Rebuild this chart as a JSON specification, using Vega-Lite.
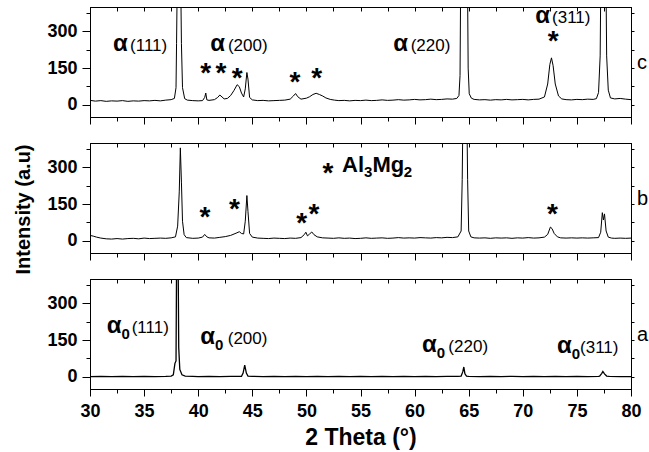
{
  "$schema": "https://vega.github.io/schema/vega-lite/v6.json",
  "padding": {"left": 13, "top": 3, "right": 2, "bottom": 2},
  "spacing": 26,
  "bounds": "flush",
  "config": {
    "font": "Liberation Sans",
    "view": {"stroke": "black", "strokeWidth": 1},
    "axis": {
      "grid": false,
      "domainColor": "black",
      "domainWidth": 1,
      "tickColor": "black",
      "tickWidth": 1,
      "labelColor": "black",
      "titleColor": "black",
      "labelFont": "Liberation Sans",
      "titleFont": "Liberation Sans",
      "labelFontWeight": "bold",
      "labelFontSize": 18,
      "titleFontWeight": "bold",
      "labelFlush": false,
      "labelOverlap": false
    }
  },
  "datasets": {
    "c": [
      {"x":30,"y":18},{"x":30.5,"y":15},{"x":31,"y":17},{"x":31.5,"y":14},{"x":32,"y":16},{"x":32.5,"y":15},{"x":33,"y":17},{"x":33.5,"y":14},{"x":34,"y":16},{"x":34.5,"y":15},{"x":35,"y":17},{"x":35.5,"y":16},{"x":36,"y":18},{"x":36.5,"y":16},{"x":37,"y":19},{"x":37.5,"y":21},{"x":37.8,"y":26},{"x":37.95,"y":70},{"x":38.0,"y":250},{"x":38.05,"y":450},{"x":38.4,"y":450},{"x":38.45,"y":250},{"x":38.55,"y":70},{"x":38.75,"y":25},{"x":39,"y":19},{"x":39.5,"y":17},{"x":40,"y":16},{"x":40.4,"y":17},{"x":40.6,"y":30},{"x":40.7,"y":48},{"x":40.8,"y":20},{"x":41,"y":18},{"x":41.5,"y":21},{"x":41.8,"y":30},{"x":42.0,"y":40},{"x":42.2,"y":32},{"x":42.4,"y":24},{"x":42.7,"y":26},{"x":43.0,"y":38},{"x":43.3,"y":58},{"x":43.6,"y":82},{"x":43.8,"y":74},{"x":44.0,"y":48},{"x":44.2,"y":32},{"x":44.35,"y":65},{"x":44.5,"y":132},{"x":44.6,"y":105},{"x":44.75,"y":30},{"x":45,"y":20},{"x":45.5,"y":17},{"x":46,"y":18},{"x":46.5,"y":16},{"x":47,"y":17},{"x":47.5,"y":18},{"x":48,"y":19},{"x":48.5,"y":23},{"x":48.8,"y":36},{"x":49.0,"y":46},{"x":49.2,"y":33},{"x":49.5,"y":23},{"x":50,"y":27},{"x":50.3,"y":33},{"x":50.6,"y":42},{"x":50.9,"y":47},{"x":51.2,"y":42},{"x":51.5,"y":36},{"x":51.8,"y":28},{"x":52.2,"y":22},{"x":52.6,"y":19},{"x":53,"y":17},{"x":53.5,"y":18},{"x":54,"y":16},{"x":54.5,"y":18},{"x":55,"y":17},{"x":55.5,"y":19},{"x":56,"y":17},{"x":56.5,"y":18},{"x":57,"y":20},{"x":57.5,"y":18},{"x":58,"y":19},{"x":58.5,"y":21},{"x":59,"y":19},{"x":59.5,"y":20},{"x":60,"y":22},{"x":60.5,"y":20},{"x":61,"y":21},{"x":61.5,"y":23},{"x":62,"y":21},{"x":62.5,"y":22},{"x":63,"y":24},{"x":63.5,"y":23},{"x":63.9,"y":26},{"x":64.1,"y":38},{"x":64.2,"y":120},{"x":64.25,"y":450},{"x":64.9,"y":450},{"x":64.95,"y":150},{"x":65.05,"y":45},{"x":65.25,"y":27},{"x":65.5,"y":22},{"x":66,"y":20},{"x":66.5,"y":21},{"x":67,"y":19},{"x":67.5,"y":21},{"x":68,"y":20},{"x":68.5,"y":22},{"x":69,"y":20},{"x":69.5,"y":21},{"x":70,"y":22},{"x":70.5,"y":20},{"x":71,"y":22},{"x":71.5,"y":23},{"x":72,"y":32},{"x":72.3,"y":85},{"x":72.5,"y":165},{"x":72.65,"y":192},{"x":72.8,"y":160},{"x":73.0,"y":85},{"x":73.3,"y":36},{"x":73.6,"y":24},{"x":74,"y":21},{"x":74.5,"y":20},{"x":75,"y":22},{"x":75.5,"y":21},{"x":76,"y":23},{"x":76.5,"y":22},{"x":76.8,"y":25},{"x":77.0,"y":50},{"x":77.15,"y":200},{"x":77.2,"y":450},{"x":77.7,"y":450},{"x":77.75,"y":200},{"x":77.9,"y":60},{"x":78.1,"y":28},{"x":78.5,"y":24},{"x":79,"y":26},{"x":79.5,"y":23},{"x":80,"y":21}
    ],
    "b": [
      {"x":30,"y":22},{"x":30.3,"y":19},{"x":30.6,"y":15},{"x":31,"y":11},{"x":31.5,"y":8},{"x":32,"y":7},{"x":32.5,"y":9},{"x":33,"y":7},{"x":33.5,"y":9},{"x":34,"y":10},{"x":34.5,"y":8},{"x":35,"y":11},{"x":35.5,"y":9},{"x":36,"y":10},{"x":36.5,"y":11},{"x":37,"y":10},{"x":37.5,"y":12},{"x":37.9,"y":16},{"x":38.1,"y":60},{"x":38.25,"y":200},{"x":38.35,"y":380},{"x":38.45,"y":240},{"x":38.55,"y":80},{"x":38.7,"y":25},{"x":38.9,"y":13},{"x":39.5,"y":10},{"x":40,"y":11},{"x":40.4,"y":15},{"x":40.6,"y":26},{"x":40.8,"y":16},{"x":41,"y":12},{"x":41.5,"y":11},{"x":42,"y":14},{"x":42.5,"y":17},{"x":43,"y":22},{"x":43.5,"y":31},{"x":43.8,"y":37},{"x":44.0,"y":30},{"x":44.2,"y":28},{"x":44.35,"y":80},{"x":44.5,"y":185},{"x":44.6,"y":120},{"x":44.75,"y":30},{"x":45,"y":15},{"x":45.5,"y":11},{"x":46,"y":10},{"x":46.5,"y":9},{"x":47,"y":11},{"x":47.5,"y":10},{"x":48,"y":9},{"x":48.5,"y":11},{"x":49,"y":10},{"x":49.5,"y":13},{"x":49.8,"y":25},{"x":49.95,"y":35},{"x":50.1,"y":20},{"x":50.3,"y":28},{"x":50.5,"y":36},{"x":50.7,"y":25},{"x":51,"y":16},{"x":51.5,"y":12},{"x":52,"y":11},{"x":52.5,"y":10},{"x":53,"y":12},{"x":53.5,"y":10},{"x":54,"y":11},{"x":54.5,"y":9},{"x":55,"y":10},{"x":55.5,"y":12},{"x":56,"y":10},{"x":56.5,"y":11},{"x":57,"y":12},{"x":57.5,"y":10},{"x":58,"y":11},{"x":58.5,"y":13},{"x":59,"y":11},{"x":59.5,"y":12},{"x":60,"y":11},{"x":60.5,"y":13},{"x":61,"y":12},{"x":61.5,"y":11},{"x":62,"y":13},{"x":62.5,"y":12},{"x":63,"y":14},{"x":63.5,"y":13},{"x":64,"y":16},{"x":64.3,"y":40},{"x":64.4,"y":250},{"x":64.45,"y":450},{"x":64.85,"y":450},{"x":64.9,"y":250},{"x":65.0,"y":40},{"x":65.2,"y":16},{"x":65.5,"y":12},{"x":66,"y":11},{"x":66.5,"y":12},{"x":67,"y":10},{"x":67.5,"y":12},{"x":68,"y":11},{"x":68.5,"y":12},{"x":69,"y":10},{"x":69.5,"y":12},{"x":70,"y":11},{"x":70.5,"y":13},{"x":71,"y":11},{"x":71.5,"y":12},{"x":72,"y":15},{"x":72.3,"y":26},{"x":72.55,"y":56},{"x":72.7,"y":50},{"x":72.9,"y":30},{"x":73.2,"y":16},{"x":73.5,"y":12},{"x":74,"y":11},{"x":74.5,"y":12},{"x":75,"y":11},{"x":75.5,"y":12},{"x":76,"y":11},{"x":76.5,"y":12},{"x":77,"y":13},{"x":77.2,"y":35},{"x":77.35,"y":115},{"x":77.45,"y":85},{"x":77.55,"y":110},{"x":77.7,"y":40},{"x":77.9,"y":15},{"x":78.2,"y":11},{"x":78.5,"y":10},{"x":79,"y":11},{"x":79.5,"y":10},{"x":80,"y":11}
    ],
    "a": [
      {"x":30,"y":1},{"x":31,"y":2},{"x":32,"y":1},{"x":33,"y":2},{"x":34,"y":1},{"x":35,"y":2},{"x":36,"y":1},{"x":37,"y":2},{"x":37.5,"y":3},{"x":37.7,"y":8},{"x":37.85,"y":55},{"x":37.95,"y":65},{"x":38.0,"y":450},{"x":38.15,"y":450},{"x":38.2,"y":120},{"x":38.3,"y":30},{"x":38.5,"y":8},{"x":38.8,"y":3},{"x":39.5,"y":2},{"x":40,"y":1},{"x":41,"y":2},{"x":42,"y":1},{"x":43,"y":2},{"x":44,"y":2},{"x":44.15,"y":15},{"x":44.3,"y":48},{"x":44.45,"y":15},{"x":44.6,"y":3},{"x":45,"y":2},{"x":46,"y":1},{"x":47,"y":2},{"x":48,"y":1},{"x":49,"y":2},{"x":50,"y":1},{"x":51,"y":2},{"x":52,"y":1},{"x":53,"y":2},{"x":54,"y":1},{"x":55,"y":2},{"x":56,"y":1},{"x":57,"y":2},{"x":58,"y":1},{"x":59,"y":2},{"x":60,"y":1},{"x":61,"y":2},{"x":62,"y":1},{"x":63,"y":2},{"x":64,"y":2},{"x":64.3,"y":3},{"x":64.45,"y":20},{"x":64.55,"y":40},{"x":64.65,"y":12},{"x":64.8,"y":3},{"x":65,"y":2},{"x":66,"y":1},{"x":67,"y":2},{"x":68,"y":1},{"x":69,"y":2},{"x":70,"y":1},{"x":71,"y":2},{"x":72,"y":1},{"x":73,"y":2},{"x":74,"y":1},{"x":75,"y":2},{"x":76,"y":1},{"x":77,"y":2},{"x":77.1,"y":3},{"x":77.3,"y":14},{"x":77.4,"y":22},{"x":77.55,"y":12},{"x":77.75,"y":3},{"x":78,"y":2},{"x":79,"y":1},{"x":80,"y":1}
    ],
    "lab": [
      {"p":"c","k":"g","x":33.5,"y":222,"t":"α"},
      {"p":"c","k":"g","x":42.48,"y":222,"t":"α"},
      {"p":"c","k":"g","x":59.39,"y":222,"t":"α"},
      {"p":"c","k":"g","x":72.51,"y":334,"t":"α"},
      {"p":"c","k":"h","x":33.7,"y":222,"t":"(111)"},
      {"p":"c","k":"h","x":42.75,"y":222,"t":"(200)"},
      {"p":"c","k":"h","x":59.64,"y":222,"t":"(220)"},
      {"p":"c","k":"h","x":72.7,"y":334,"t":"(311)"},
      {"p":"c","k":"st","x":40.7,"y":160,"t":"*"},
      {"p":"c","k":"st","x":42.1,"y":160,"t":"*"},
      {"p":"c","k":"st","x":43.6,"y":140,"t":"*"},
      {"p":"c","k":"st","x":48.95,"y":123,"t":"*"},
      {"p":"c","k":"st","x":50.95,"y":140,"t":"*"},
      {"p":"c","k":"st","x":72.8,"y":288,"t":"*"},
      {"p":"b","k":"st","x":40.63,"y":127,"t":"*"},
      {"p":"b","k":"st","x":43.34,"y":158,"t":"*"},
      {"p":"b","k":"st","x":49.57,"y":100,"t":"*"},
      {"p":"b","k":"st","x":50.7,"y":138,"t":"*"},
      {"p":"b","k":"st","x":72.73,"y":138,"t":"*"},
      {"p":"b","k":"st","x":52.0,"y":307,"t":"*"},
      {"p":"b","k":"lg","x":53.3,"y":282,"t":"Al"},
      {"p":"b","k":"ls","x":55.32,"y":282,"t":"3"},
      {"p":"b","k":"lg","x":56.1,"y":282,"t":"Mg"},
      {"p":"b","k":"ls","x":59.0,"y":282,"t":"2"},
      {"p":"a","k":"g","x":32.92,"y":178,"t":"α"},
      {"p":"a","k":"g","x":41.55,"y":135,"t":"α"},
      {"p":"a","k":"g","x":62.04,"y":100,"t":"α"},
      {"p":"a","k":"g","x":74.52,"y":98,"t":"α"},
      {"p":"a","k":"s","x":32.92,"y":178,"t":"0"},
      {"p":"a","k":"s","x":41.55,"y":135,"t":"0"},
      {"p":"a","k":"s","x":62.04,"y":100,"t":"0"},
      {"p":"a","k":"s","x":74.52,"y":98,"t":"0"},
      {"p":"a","k":"h","x":33.85,"y":178,"t":"(111)"},
      {"p":"a","k":"h","x":42.73,"y":135,"t":"(200)"},
      {"p":"a","k":"h","x":63.12,"y":100,"t":"(220)"},
      {"p":"a","k":"h","x":75.29,"y":98,"t":"(311)"}
    ]
  },
  "vconcat": [
    {
      "width": 541, "height": 110,
      "resolve": {"axis": {"x": "independent", "y": "independent"}},
      "layer": [
        {
          "data": {"name": "c"},
          "mark": {"type": "line", "clip": true, "color": "black", "strokeWidth": 1},
          "encoding": {
            "x": {"field": "x", "type": "quantitative", "scale": {"domain": [30, 80], "nice": false, "zero": false},
              "axis": {"orient": "bottom", "values": [30,32.5,35,37.5,40,42.5,45,47.5,50,52.5,55,57.5,60,62.5,65,67.5,70,72.5,75,77.5,80], "labels": false, "title": null,
                "tickSize": {"condition": {"test": "datum.value % 5 === 0", "value": 7}, "value": 4}}},
            "y": {"field": "y", "type": "quantitative", "scale": {"domain": [-50, 400], "nice": false, "zero": false},
              "axis": {"orient": "left", "values": [0,75,150,225,300,375], "title": null, "labelPadding": 5,
                "labelExpr": "datum.value % 150 === 0 ? datum.label : ''",
                "tickSize": {"condition": {"test": "datum.value % 150 === 0", "value": 8}, "value": 4}}}
          }
        },
        {
          "data": {"name": "lab"},
          "transform": [{"filter": "datum.p === 'c' && datum.k === 'g'"}],
          "mark": {"type": "text", "fontWeight": "bold", "fontSize": 24, "align": "right", "baseline": "alphabetic", "color": "black"},
          "encoding": {
            "x": {"field": "x", "type": "quantitative", "axis": {"orient": "top", "values": [30,32.5,35,37.5,40,42.5,45,47.5,50,52.5,55,57.5,60,62.5,65,67.5,70,72.5,75,77.5,80], "labels": false, "title": null, "tickSize": -4}},
            "y": {"field": "y", "type": "quantitative", "axis": {"orient": "right", "values": [0,75,150,225,300,375], "labels": false, "tickSize": 3, "title": "c", "titleAngle": 0, "titleAlign": "left", "titleBaseline": "middle", "titleFontWeight": "normal", "titleFontSize": 20, "titlePadding": 2}},
            "text": {"field": "t"}
          }
        },
        {
          "data": {"name": "lab"},
          "transform": [{"filter": "datum.p === 'c' && datum.k === 'h'"}],
          "mark": {"type": "text", "fontWeight": "normal", "fontSize": 17, "align": "left", "baseline": "alphabetic", "color": "black"},
          "encoding": {
            "x": {"field": "x", "type": "quantitative", "axis": null},
            "y": {"field": "y", "type": "quantitative", "axis": null},
            "text": {"field": "t"}
          }
        },
        {
          "data": {"name": "lab"},
          "transform": [{"filter": "datum.p === 'c' && datum.k === 'st'"}],
          "mark": {"type": "text", "fontWeight": "bold", "fontSize": 28, "align": "center", "baseline": "middle", "dy": 8, "color": "black"},
          "encoding": {
            "x": {"field": "x", "type": "quantitative", "axis": null},
            "y": {"field": "y", "type": "quantitative", "axis": null},
            "text": {"field": "t"}
          }
        }
      ]
    },
    {
      "width": 541, "height": 110,
      "resolve": {"axis": {"x": "independent", "y": "independent"}},
      "layer": [
        {
          "data": {"name": "b"},
          "mark": {"type": "line", "clip": true, "color": "black", "strokeWidth": 1},
          "encoding": {
            "x": {"field": "x", "type": "quantitative", "scale": {"domain": [30, 80], "nice": false, "zero": false},
              "axis": {"orient": "bottom", "values": [30,32.5,35,37.5,40,42.5,45,47.5,50,52.5,55,57.5,60,62.5,65,67.5,70,72.5,75,77.5,80], "labels": false, "title": null,
                "tickSize": {"condition": {"test": "datum.value % 5 === 0", "value": 7}, "value": 4}}},
            "y": {"field": "y", "type": "quantitative", "scale": {"domain": [-50, 400], "nice": false, "zero": false},
              "axis": {"orient": "left", "values": [0,75,150,225,300,375], "labelPadding": 5,
                "title": "Intensity (a.u)", "titleFontSize": 20, "titlePadding": 13, "titleY": 66,
                "labelExpr": "datum.value % 150 === 0 ? datum.label : ''",
                "tickSize": {"condition": {"test": "datum.value % 150 === 0", "value": 8}, "value": 4}}}
          }
        },
        {
          "data": {"name": "lab"},
          "transform": [{"filter": "datum.p === 'b' && datum.k === 'st'"}],
          "mark": {"type": "text", "fontWeight": "bold", "fontSize": 28, "align": "center", "baseline": "middle", "dy": 8, "color": "black"},
          "encoding": {
            "x": {"field": "x", "type": "quantitative", "axis": {"orient": "top", "values": [30,32.5,35,37.5,40,42.5,45,47.5,50,52.5,55,57.5,60,62.5,65,67.5,70,72.5,75,77.5,80], "labels": false, "title": null, "tickSize": -4}},
            "y": {"field": "y", "type": "quantitative", "axis": {"orient": "right", "values": [0,75,150,225,300,375], "labels": false, "tickSize": 3, "title": "b", "titleAngle": 0, "titleAlign": "left", "titleBaseline": "middle", "titleFontWeight": "normal", "titleFontSize": 20, "titlePadding": 2}},
            "text": {"field": "t"}
          }
        },
        {
          "data": {"name": "lab"},
          "transform": [{"filter": "datum.p === 'b' && datum.k === 'lg'"}],
          "mark": {"type": "text", "fontWeight": "bold", "fontSize": 22, "align": "left", "baseline": "alphabetic", "color": "black"},
          "encoding": {
            "x": {"field": "x", "type": "quantitative", "axis": null},
            "y": {"field": "y", "type": "quantitative", "axis": null},
            "text": {"field": "t"}
          }
        },
        {
          "data": {"name": "lab"},
          "transform": [{"filter": "datum.p === 'b' && datum.k === 'ls'"}],
          "mark": {"type": "text", "fontWeight": "bold", "fontSize": 15, "align": "left", "baseline": "alphabetic", "dy": 5, "color": "black"},
          "encoding": {
            "x": {"field": "x", "type": "quantitative", "axis": null},
            "y": {"field": "y", "type": "quantitative", "axis": null},
            "text": {"field": "t"}
          }
        }
      ]
    },
    {
      "width": 541, "height": 110,
      "resolve": {"axis": {"x": "independent", "y": "independent"}},
      "layer": [
        {
          "data": {"name": "a"},
          "mark": {"type": "line", "clip": true, "color": "black", "strokeWidth": 1.3},
          "encoding": {
            "x": {"field": "x", "type": "quantitative", "scale": {"domain": [30, 80], "nice": false, "zero": false},
              "axis": {"orient": "bottom", "values": [30,32.5,35,37.5,40,42.5,45,47.5,50,52.5,55,57.5,60,62.5,65,67.5,70,72.5,75,77.5,80],
                "labelExpr": "datum.value % 5 === 0 ? format(datum.value, 'd') : ''", "labelPadding": 6,
                "title": "2 Theta (°)", "titleFontSize": 23, "titlePadding": 6,
                "tickSize": {"condition": {"test": "datum.value % 5 === 0", "value": 7}, "value": 4}}},
            "y": {"field": "y", "type": "quantitative", "scale": {"domain": [-50, 400], "nice": false, "zero": false},
              "axis": {"orient": "left", "values": [0,75,150,225,300,375], "title": null, "labelPadding": 5,
                "labelExpr": "datum.value % 150 === 0 ? datum.label : ''",
                "tickSize": {"condition": {"test": "datum.value % 150 === 0", "value": 8}, "value": 4}}}
          }
        },
        {
          "data": {"name": "lab"},
          "transform": [{"filter": "datum.p === 'a' && datum.k === 'g'"}],
          "mark": {"type": "text", "fontWeight": "bold", "fontSize": 24, "align": "right", "baseline": "alphabetic", "color": "black"},
          "encoding": {
            "x": {"field": "x", "type": "quantitative", "axis": {"orient": "top", "values": [30,32.5,35,37.5,40,42.5,45,47.5,50,52.5,55,57.5,60,62.5,65,67.5,70,72.5,75,77.5,80], "labels": false, "title": null, "tickSize": -4}},
            "y": {"field": "y", "type": "quantitative", "axis": {"orient": "right", "values": [0,75,150,225,300,375], "labels": false, "tickSize": 3, "title": "a", "titleAngle": 0, "titleAlign": "left", "titleBaseline": "middle", "titleFontWeight": "normal", "titleFontSize": 20, "titlePadding": 2}},
            "text": {"field": "t"}
          }
        },
        {
          "data": {"name": "lab"},
          "transform": [{"filter": "datum.p === 'a' && datum.k === 's'"}],
          "mark": {"type": "text", "fontWeight": "bold", "fontSize": 15, "align": "left", "baseline": "alphabetic", "dy": 6, "color": "black"},
          "encoding": {
            "x": {"field": "x", "type": "quantitative", "axis": null},
            "y": {"field": "y", "type": "quantitative", "axis": null},
            "text": {"field": "t"}
          }
        },
        {
          "data": {"name": "lab"},
          "transform": [{"filter": "datum.p === 'a' && datum.k === 'h'"}],
          "mark": {"type": "text", "fontWeight": "normal", "fontSize": 17, "align": "left", "baseline": "alphabetic", "color": "black"},
          "encoding": {
            "x": {"field": "x", "type": "quantitative", "axis": null},
            "y": {"field": "y", "type": "quantitative", "axis": null},
            "text": {"field": "t"}
          }
        }
      ]
    }
  ]
}
